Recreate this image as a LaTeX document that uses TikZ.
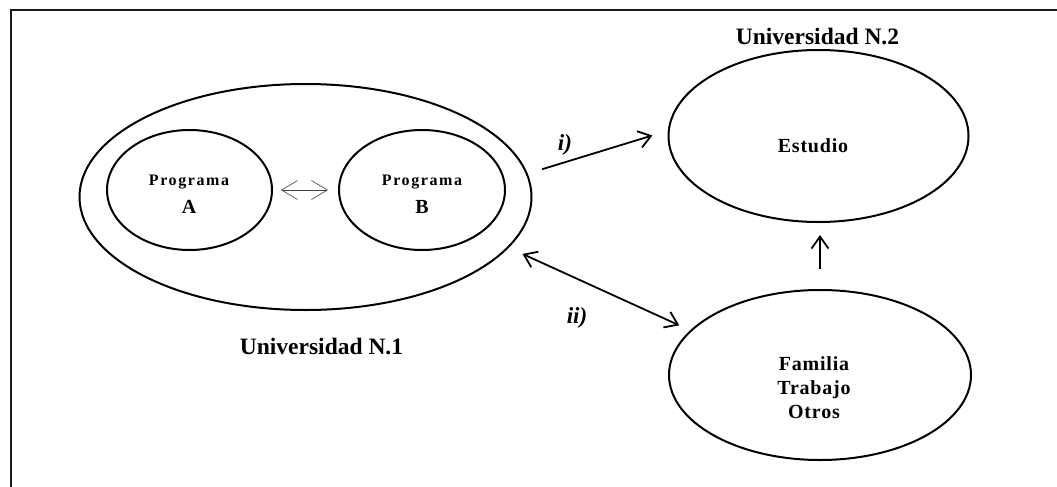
\documentclass[tikz,border=0pt]{standalone}
\usepackage{fontspec}
\setmainfont{Liberation Serif}
\newfontfamily\spc[LetterSpace=10]{Liberation Serif}
\newfontfamily\spcb[LetterSpace=4]{Liberation Serif}
\usetikzlibrary{shapes.geometric,arrows.meta}
\begin{document}
\begin{tikzpicture}[x=1pt,y=-1pt,
  ell/.style={draw,ellipse,line width=2pt,inner sep=0pt},
  arr/.style={line width=1.8pt,-{Straight Barb[length=12pt,width=17pt,line width=1.8pt]}},
  darr/.style={line width=1.8pt,{Straight Barb[length=12pt,width=17pt,line width=1.8pt]}-{Straight Barb[length=12pt,width=17pt,line width=1.8pt]}},
  thinarr/.style={line width=0.6pt,draw=black!75,{Straight Barb[length=16pt,width=19pt,line width=0.6pt]}-{Straight Barb[length=16pt,width=19pt,line width=0.6pt]}},
  big/.style={font=\bfseries\fontsize{23.5}{27}\selectfont},
  lab/.style={font=\bfseries\itshape\fontsize{23}{27}\selectfont},
  txt/.style={font=\spcb\bfseries\fontsize{20}{25}\selectfont,align=center},
]
\useasboundingbox (0,0) rectangle (1057,487);
\draw[line width=2.4pt,draw=black!90] (11,487) -- (11,10) -- (1057,10);

% Universidad N.1
\node[ell,minimum width=452pt,minimum height=226pt] (U1) at (305.5,197) {};
\node[ell,minimum width=165pt,minimum height=120pt] (A) at (189.5,190) {};
\node[ell,minimum width=166pt,minimum height=120pt] (B) at (422,190) {};
\node[font=\spc\bfseries\fontsize{16}{18}\selectfont] (Ap) at (189,182) {Programa};
\node[font=\bfseries\fontsize{20}{22}\selectfont] (Al) at (189,207) {A};
\node[font=\spc\bfseries\fontsize{16}{18}\selectfont] (Bp) at (422,182) {Programa};
\node[font=\bfseries\fontsize{20}{22}\selectfont] (Bl) at (422,207) {B};
\draw[thinarr,shorten <=8pt,shorten >=10pt] (A.east) -- (B.west);
\node[big] (U1l) at (321.5,347) {Universidad N.1};

% Universidad N.2
\node[ell,minimum width=300pt,minimum height=172pt] (E) at (818.5,136) {};
\node[txt] (Et) at (813,146) {Estudio};
\node[big] (U2l) at (817.5,37) {Universidad N.2};

% Familia
\node[ell,minimum width=302pt,minimum height=170pt] (F) at (820,375) {};
\node[txt] (Ft) at (814,388) {Familia\\[-1pt]Trabajo\\[-1pt]Otros};

% connectors
\draw[arr,shorten <=15pt,shorten >=16pt] (U1.6) -- (E.178.6);
\node[lab] (il) at (565,145) {i)};
\draw[darr,shorten <=15pt,shorten >=12pt] (U1.-14.2) -- (F.161);
\node[lab] (iil) at (577,318) {ii)};
\draw[arr,shorten <=20pt,shorten >=12pt] (F.north) -- (F.north |- E.south);
\end{tikzpicture}
\end{document}
